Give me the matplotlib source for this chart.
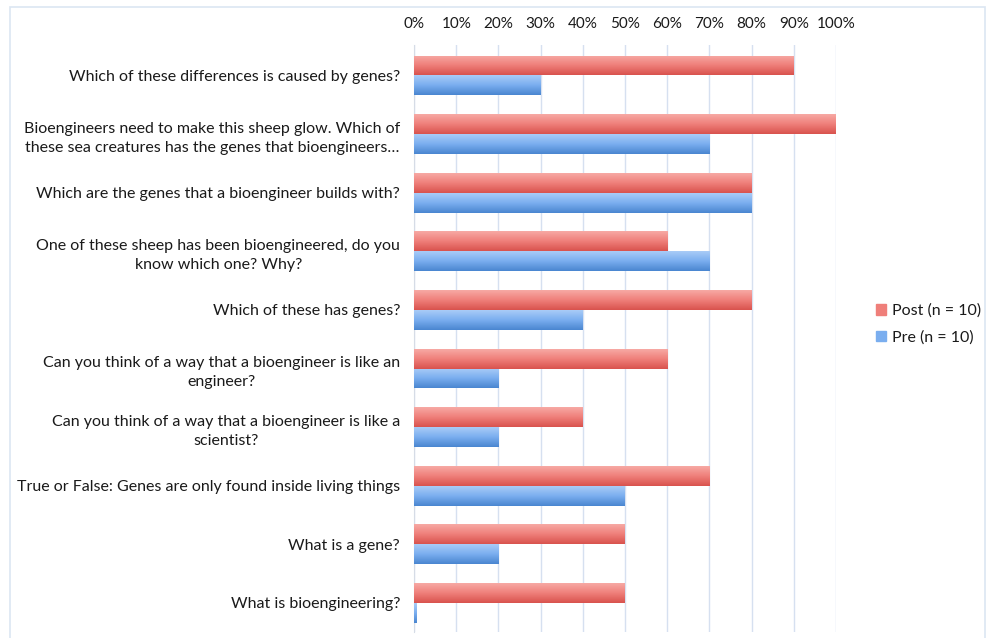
import matplotlib
matplotlib.use("Agg")
import matplotlib.pyplot as plt
import numpy as np
from matplotlib.colors import LinearSegmentedColormap
from matplotlib.patches import Rectangle
from matplotlib.ticker import PercentFormatter

plt.rcParams['font.family'] = ['Lato', 'DejaVu Sans']

categories = [
    "Which of these differences is caused by genes?",
    "Bioengineers need to make this sheep glow. Which of\nthese sea creatures has the genes that bioengineers…",
    "Which are the genes that a bioengineer builds with?",
    "One of these sheep has been bioengineered, do you\nknow which one? Why?",
    "Which of these has genes?",
    "Can you think of a way that a bioengineer is like an\nengineer?",
    "Can you think of a way that a bioengineer is like a\nscientist?",
    "True or False: Genes are only found inside living things",
    "What is a gene?",
    "What is bioengineering?",
]
post = [0.90, 1.00, 0.80, 0.60, 0.80, 0.60, 0.40, 0.70, 0.50, 0.50]
pre = [0.30, 0.70, 0.80, 0.70, 0.40, 0.20, 0.20, 0.50, 0.20, 0.007]
series_labels = ["Post (n = 10)", "Pre (n = 10)"]
xticks = [0, 0.1, 0.2, 0.3, 0.4, 0.5, 0.6, 0.7, 0.8, 0.9, 1.0]

fig = plt.figure(figsize=(9.87, 6.38), dpi=100)
ax = fig.add_axes([0.4195, 0.009, 0.4275, 0.9205])

y = np.arange(len(categories))
h = 0.34
red_cmap = LinearSegmentedColormap.from_list("r", ["#F7A9A4", "#EF7F7A", "#D9534E"])
blue_cmap = LinearSegmentedColormap.from_list("b", ["#A9CCF7", "#7AAEEF", "#4A86D0"])

bars_post = ax.barh(y - h / 2, post, height=h, color="#EF7F7A", zorder=2)
bars_pre = ax.barh(y + h / 2, pre, height=h, color="#7AAEEF", zorder=2)

grad = np.linspace(0, 1, 64).reshape(-1, 1)
for bars, cmap in ((bars_post, red_cmap), (bars_pre, blue_cmap)):
    for b in bars:
        x0, y0 = b.get_x(), b.get_y()
        w, hh = b.get_width(), b.get_height()
        im = ax.imshow(grad, cmap=cmap, aspect="auto",
                       extent=(x0, x0 + w, y0 + hh, y0), zorder=3,
                       interpolation="bilinear")
        im.set_clip_path(b)

ax.set_xlim(0, 1.0)
ax.set_ylim(len(categories) - 0.5, -0.52)
ax.set_xticks(xticks)
ax.xaxis.set_major_formatter(PercentFormatter(1.0, decimals=0))
ax.xaxis.tick_top()
ax.tick_params(axis="x", length=0, pad=10, labelsize=11, colors="#1a1a1a")
ax.tick_params(axis="y", length=0, pad=10, labelsize=11.5, colors="#1a1a1a")
ax.set_yticks(y)
ax.set_yticklabels(categories, multialignment="center", linespacing=1.45)
ax.grid(axis="x", color="#D6E0F0", linewidth=1, zorder=0)
ax.set_axisbelow(True)
for s in ["top", "right", "bottom"]:
    ax.spines[s].set_visible(False)
ax.spines["left"].set_color("#D6DCE6")

handles = [Rectangle((0, 0), 1, 1, color="#EF7F7A"), Rectangle((0, 0), 1, 1, color="#7AAEEF")]
fig.legend(handles, series_labels, loc="center left", bbox_to_anchor=(0.873, 0.492),
           frameon=False, fontsize=11.5, handlelength=0.6, handleheight=0.6,
           handletextpad=0.4, labelspacing=0.75, labelcolor="#1a1a1a")

frame = Rectangle((0.0105, -0.01), 0.9875, 0.999, transform=fig.transFigure,
                  fill=False, edgecolor="#DCE6F2", linewidth=1.2)
fig.patches.append(frame)

fig.savefig("out.png", dpi=100)
